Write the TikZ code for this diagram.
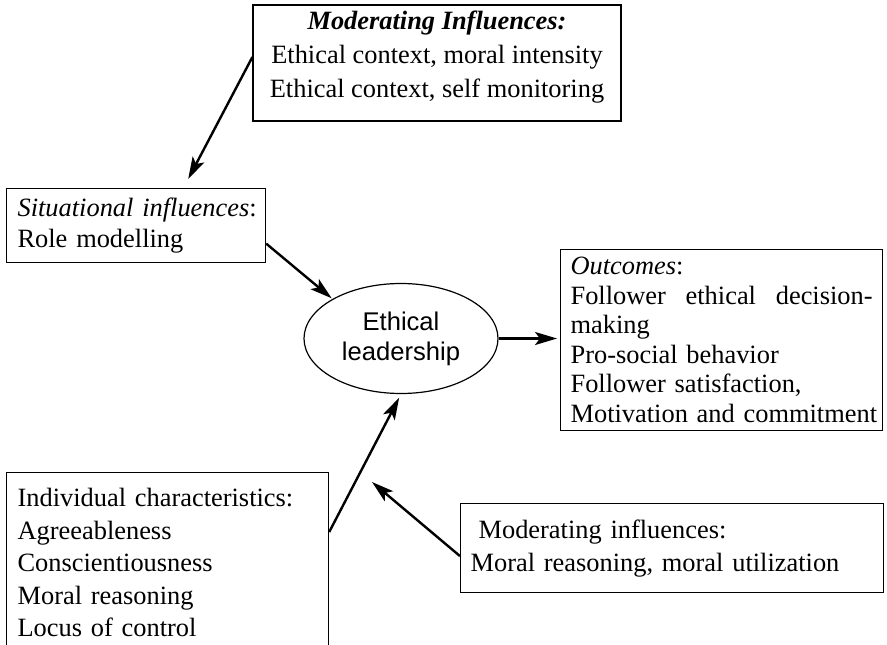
\documentclass[tikz,border=0pt]{standalone}
\usepackage{fontspec}
\setmainfont{Liberation Serif}
\setsansfont{Liberation Sans}
\usetikzlibrary{arrows.meta,shapes.geometric}
\tikzset{
  box/.style={draw, line width=1.2pt, inner xsep=11pt, font=\fontsize{26.4}{33}\selectfont},
  arr/.style={line width=2.4pt, -{Stealth[length=22pt,width=13pt,inset=5pt]}},
}

\begin{document}
\begin{tikzpicture}[x=1pt,y=-1pt]
\useasboundingbox (0,0) rectangle (887,645);
\node[box, align=center, minimum width=368pt, minimum height=116pt,
  font=\fontsize{26.4}{34}\selectfont] (infl) at (437,63)
  {\textbf{\textit{Moderating Influences:}}\\Ethical context, moral intensity\\Ethical context, self monitoring\rule[-18pt]{0pt}{0pt}};
\node[box, anchor=north west, text width=237pt, minimum height=74pt, align=left,
  font=\fontsize{26.4}{31}\selectfont] (situ) at (6,188)
  {\mbox{\textit{Situational influences}:}\\Role modelling};
\node[draw, ellipse, line width=1.2pt, minimum width=194pt, minimum height=110pt, align=center,
  font=\sffamily\fontsize{25.6}{30}\selectfont] (lead) at (401,338.5) {Ethical\\leadership};
\node[box, anchor=north west, text width=302pt, inner xsep=10pt, minimum height=181pt, align=left,
  font=\fontsize{26.4}{29.5}\selectfont] (outc) at (560,249)
  {\textit{Outcomes}:\\Follower\hfill ethical\hfill decision-\\making\\Pro-social behavior\\Follower satisfaction,\\\mbox{Motivation and commitment}};
\node[box, anchor=north west, text width=300pt, inner ysep=16pt, align=left,
  font=\fontsize{26.4}{32.5}\selectfont] (indiv) at (6,472)
  {Individual characteristics:\\Agreeableness\\Conscientiousness\\Moral reasoning\\Locus of control};
\node[box, anchor=north west, text width=403pt, inner xsep=10pt, minimum height=89pt, align=left] (mod) at (460,503)
  {\hspace*{8pt}Moderating influences:\\Moral reasoning, moral utilization};
\coordinate (modtip) at (372,482);

\draw[arr] ([yshift=6pt]infl.west) -- ([xshift=-78pt,yshift=9pt]situ.north east);
\draw[arr, shorten >=1pt] ([yshift=-18pt]situ.east) -- (lead.150);
\draw[arr, shorten >=3pt] (lead.east) -- (lead.east -| outc.west);
\draw[arr, shorten >=4pt] ([yshift=-60pt]indiv.north east) -- (lead.south);
\draw[arr] ([yshift=-8pt]mod.west) -- (modtip);
\end{tikzpicture}
\end{document}
